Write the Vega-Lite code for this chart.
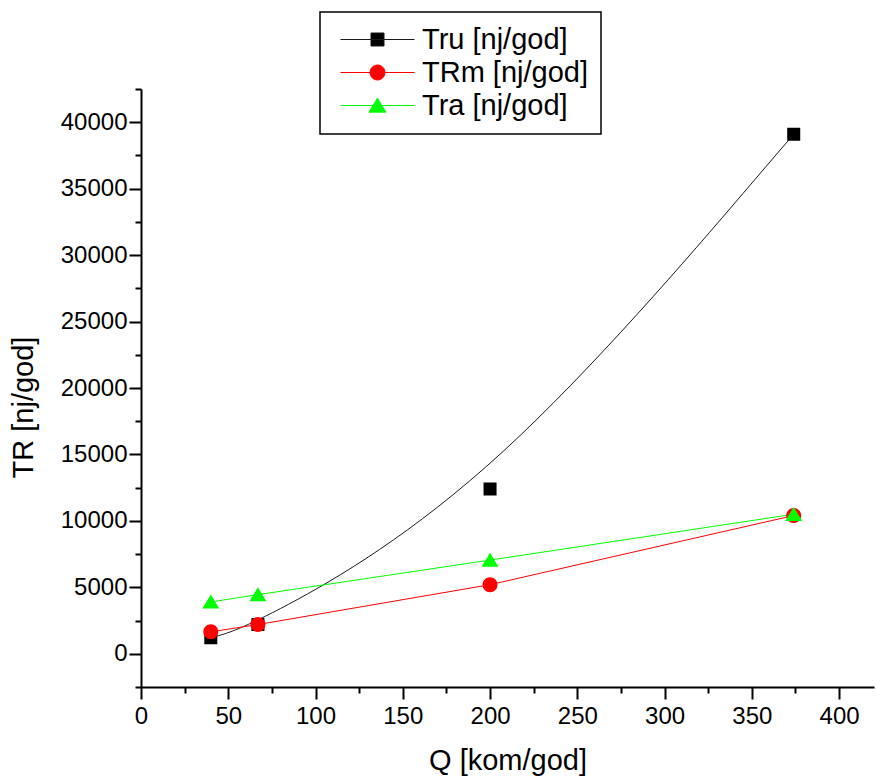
{
  "$schema": "https://vega.github.io/schema/vega-lite/v6.json",
  "width": 733,
  "height": 598,
  "autosize": {"type": "none"},
  "padding": {"left": 141, "top": 89, "right": 2, "bottom": 92},
  "background": "white",
  "config": {
    "view": {"stroke": null},
    "font": "Liberation Sans",
    "legend": {"strokeWidth": 1.5},
    "axis": {
      "domainColor": "black",
      "domainWidth": 2,
      "tickColor": "black",
      "tickWidth": 2,
      "labelColor": "black",
      "titleColor": "black",
      "labelFont": "Liberation Sans",
      "titleFont": "Liberation Sans",
      "labelFontSize": 24,
      "titleFontSize": 29,
      "titleFontWeight": "normal",
      "labelFlush": false,
      "grid": false
    }
  },
  "data": {
    "values": [
      {"series": "Tru", "Q": 40, "TR": 1200},
      {"series": "Tru", "Q": 67, "TR": 2200},
      {"series": "Tru", "Q": 200, "TR": 12400},
      {"series": "Tru", "Q": 374, "TR": 39100},
      {"series": "TRm", "Q": 40, "TR": 1650},
      {"series": "TRm", "Q": 67, "TR": 2200},
      {"series": "TRm", "Q": 200, "TR": 5200},
      {"series": "TRm", "Q": 374, "TR": 10400},
      {"series": "Tra", "Q": 40, "TR": 3900},
      {"series": "Tra", "Q": 67, "TR": 4450},
      {"series": "Tra", "Q": 200, "TR": 7050},
      {"series": "Tra", "Q": 374, "TR": 10500}
    ]
  },
  "encoding": {
    "x": {
      "field": "Q", "type": "quantitative",
      "scale": {"domain": [0, 420], "nice": false, "zero": false},
      "axis": {
        "title": "Q [kom/god]",
        "values": [0, 25, 50, 75, 100, 125, 150, 175, 200, 225, 250, 275, 300, 325, 350, 375, 400],
        "labelExpr": "datum.value % 50 === 0 ? datum.label : ''",
        "tickSize": {"condition": {"test": "datum.value % 50 === 0", "value": 12}, "value": 6},
        "labelPadding": 5,
        "titlePadding": 18,
        "format": "d"
      }
    },
    "y": {
      "field": "TR", "type": "quantitative",
      "scale": {"domain": [-2500, 42500], "nice": false, "zero": false},
      "axis": {
        "title": "TR [nj/god]",
        "values": [-2500, 0, 2500, 5000, 7500, 10000, 12500, 15000, 17500, 20000, 22500, 25000, 27500, 30000, 32500, 35000, 37500, 40000, 42500],
        "labelExpr": "datum.value % 5000 === 0 ? datum.label : ''",
        "tickSize": {"condition": {"test": "datum.value % 5000 === 0", "value": 12}, "value": 6},
        "labelPadding": 2,
        "titlePadding": 22,
        "titleY": 318,
        "format": "d"
      }
    }
  },
  "layer": [
    {
      "transform": [{"filter": "datum.series === 'Tru'"}],
      "mark": {"type": "line", "interpolate": "basis", "color": "#1a1a1a", "strokeWidth": 1}
    },
    {
      "transform": [{"filter": "datum.series === 'TRm'"}],
      "mark": {"type": "line", "color": "#ff0000", "strokeWidth": 1}
    },
    {
      "transform": [{"filter": "datum.series === 'Tra'"}],
      "mark": {"type": "line", "color": "#00ff00", "strokeWidth": 1}
    },
    {
      "mark": {"type": "point", "filled": true, "opacity": 1, "size": 196},
      "encoding": {
        "color": {
          "field": "series", "type": "nominal",
          "scale": {"domain": ["Tru", "TRm", "Tra"], "range": ["#000000", "#ff0000", "#00ff00"]},
          "legend": {
            "title": null,
            "orient": "none",
            "legendX": 179,
            "legendY": -77,
            "strokeColor": "black",
            "padding": 13,
            "symbolSize": 196,
            "symbolStrokeWidth": 1,
            "symbolOffset": 30,
            "labelFontSize": 29,
            "labelFont": "Liberation Sans",
            "labelColor": "black",
            "labelLimit": 400,
            "labelOffset": 30,
            "rowPadding": 3,
            "labelExpr": "datum.label + ' [nj/god]'"
          }
        },
        "stroke": {
          "field": "series", "type": "nominal",
          "scale": {"domain": ["Tru", "TRm", "Tra"], "range": ["#1a1a1a", "#ff0000", "#00ff00"]}
        },
        "strokeWidth": {"value": 0},
        "shape": {
          "field": "series", "type": "nominal",
          "scale": {
            "domain": ["Tru", "TRm", "Tra"],
            "range": [
              "M-5.29,0H5.29M-0.93,-0.93H0.93V0.93H-0.93Z",
              "M-5.29,0H5.29M-1.07,0A1.07,1.07 0 1,1 1.07,0A1.07,1.07 0 1,1 -1.07,0Z",
              "M-5.29,0H5.29M0,-1.05L1.21,0.95H-1.21Z"
            ]
          }
        }
      }
    }
  ]
}
